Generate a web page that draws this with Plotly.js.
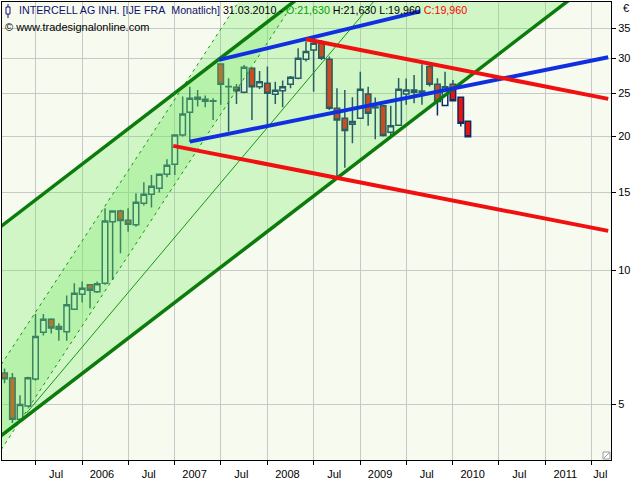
<!DOCTYPE html>
<html><head><meta charset="utf-8">
<script src="https://cdn.plot.ly/plotly-3.0.1.min.js"></script>
<style>html,body{margin:0;padding:0;background:#fff;}#chart{width:640px;height:480px;}</style>
</head><body><div id="chart"></div>
<script>
// Monthly candles, Mar 2005 - Mar 2010
const months = ['2005-03-01','2005-04-01','2005-05-01','2005-06-01','2005-07-01','2005-08-01','2005-09-01','2005-10-01','2005-11-01','2005-12-01',
'2006-01-01','2006-02-01','2006-03-01','2006-04-01','2006-05-01','2006-06-01','2006-07-01','2006-08-01','2006-09-01','2006-10-01','2006-11-01','2006-12-01',
'2007-01-01','2007-02-01','2007-03-01','2007-04-01','2007-05-01','2007-06-01','2007-07-01','2007-08-01','2007-09-01','2007-10-01','2007-11-01','2007-12-01',
'2008-01-01','2008-02-01','2008-03-01','2008-04-01','2008-05-01','2008-06-01','2008-07-01','2008-08-01','2008-09-01','2008-10-01','2008-11-01','2008-12-01',
'2009-01-01','2009-02-01','2009-03-01','2009-04-01','2009-05-01','2009-06-01','2009-07-01','2009-08-01','2009-09-01','2009-10-01','2009-11-01','2009-12-01',
'2010-01-01','2010-02-01','2010-03-01'];
const openP  = [5.88,5.73,4.63,4.96,5.70,7.26,7.77,7.48,7.28,8.18, 8.84,9.28,8.96,9.36,12.87,13.60,12.97,12.66,14.16,14.83,15.30,16.45, 17.33,20.14,22.67,24.50,24.25,24.00,29.11,25.90,25.80,25.14,28.47,25.88, 26.34,24.89,25.35,26.21,27.03,29.83,31.30,32.53,29.83,23.14,21.98,21.31, 21.98,24.90,23.20,23.43,20.45,21.20,24.90,25.44,25.10,28.71,26.21,23.46, 26.21,24.50,21.63];
const highP  = [6.02,5.88,5.24,5.77,7.98,7.98,7.81,7.61,8.78,9.36, 9.44,9.30,9.44,13.80,13.65,13.68,13.80,14.91,15.79,16.39,16.50,17.78, 20.20,24.58,25.88,25.44,24.71,24.38,29.20,27.03,26.25,28.96,28.50,28.07, 28.71,26.56,26.70,27.36,31.57,32.67,33.25,32.96,30.23,25.66,25.44,24.50, 27.97,25.88,24.47,23.50,23.43,27.08,27.00,27.50,29.07,29.22,27.03,27.97, 26.80,24.50,21.63];
const lowP   = [5.58,4.54,4.60,4.93,5.65,7.14,7.22,6.95,6.95,8.15, 8.47,8.22,8.90,9.28,9.52,10.93,12.22,12.54,14.00,13.84,14.96,16.20, 16.39,20.00,19.47,23.34,23.26,21.79,23.55,20.51,23.67,25.00,21.79,25.57, 21.23,23.67,23.26,25.66,26.90,29.46,25.22,29.72,22.94,16.25,17.02,19.31, 21.90,21.13,19.71,19.99,19.99,21.15,23.55,23.75,23.55,25.90,22.28,23.40, 24.00,21.05,19.96];
const closeP = [5.71,4.63,5.00,5.74,7.10,7.77,7.42,7.38,8.37,8.89, 9.12,9.03,9.33,12.92,13.60,12.94,12.70,14.23,14.83,15.46,16.45,17.23, 20.16,22.47,24.38,24.25,24.00,24.05,26.21,25.85,25.35,28.62,25.88,26.56, 25.01,25.41,25.88,27.18,29.98,31.02,32.40,29.98,23.14,21.79,20.62,21.60, 25.53,22.56,23.30,20.09,21.13,25.53,25.44,25.14,25.30,26.21,23.95,25.88, 24.07,21.42,19.96];

// Trend lines (date, price)
const chanUpperX = ['2005-01-01','2008-07-01'];  const chanUpperY = [12.0, 43.45];
const chanLowerX = ['2005-01-01','2011-11-01'];  const chanLowerY = [4.063, 50.1];
const blueUpperX = ['2007-06-24','2009-08-25'];  const blueUpperY = [29.72, 38.19];
const blueLowerX = ['2007-03-01','2011-09-05'];  const blueLowerY = [19.47, 30.14];
const redUpperX  = ['2008-06-01','2011-09-05'];  const redUpperY  = [33.08, 24.29];
const redLowerX  = ['2006-12-26','2011-09-05'];  const redLowerY  = [19.05, 12.27];
const thinSolidX = ['2005-05-26','2009-04-01'];  const thinSolidY = [4.777, 42.6];
const steepUpperX = ['2005-02-01','2007-11-01']; const steepUpperY = [5.963, 44.6];
const steepLowerX = ['2005-02-01','2008-07-01']; const steepLowerY = [3.840, 46.8];

// Axis ticks
const yTicks = [5,10,15,20,25,30,35];
const xBounds = ['2005-07-01','2006-01-01','2006-07-01','2007-01-01','2007-07-01','2008-01-01','2008-07-01','2009-01-01','2009-07-01','2010-01-01','2010-07-01','2011-01-01','2011-07-01'];
const xLabelPos = ['2005-09-20','2006-03-20','2006-09-20','2007-03-20','2007-09-20','2008-03-20','2008-09-20','2009-03-20','2009-09-20','2010-03-20','2010-09-20','2011-03-20','2011-08-05'];
const xLabelText = ['Jul','2006','Jul','2007','Jul','2008','Jul','2009','Jul','2010','Jul','2011','Jul'];

const xRange = ['2005-02-19','2011-09-16'];
const yRange = [Math.log10(3.75), Math.log10(40.1)];

const NAVY = '#0B2A66';
const font = 'Liberation Sans, Arial, sans-serif';
const BAND = 'rgba(110,235,95,0.28)';

function line(x, y, color, width, dash) {
  return {type:'scatter', mode:'lines', x:x, y:y, line:{color:color, width:width, dash:dash||'solid'}, hoverinfo:'skip'};
}
function band(ux, uy, lx, ly) {
  return {type:'scatter', mode:'lines', x:[ux[0],ux[1],lx[1],lx[0]], y:[uy[0],uy[1],ly[1],ly[0]],
          fill:'toself', fillcolor:BAND, line:{width:0}, hoverinfo:'skip'};
}

const traces = [
  {type:'candlestick', x:months, open:openP, high:highP, low:lowP, close:closeP,
   increasing:{line:{color:NAVY, width:1.5}, fillcolor:'#FFFFFF'},
   decreasing:{line:{color:NAVY, width:1.5}, fillcolor:'#F21008'},
   whiskerwidth:0, hoverinfo:'skip'},
  band(chanUpperX, chanUpperY, chanLowerX, chanLowerY),
  band(steepUpperX, steepUpperY, steepLowerX, steepLowerY),
  line(steepUpperX, steepUpperY, '#119911', 1, '3px,4px'),
  line(steepLowerX, steepLowerY, '#119911', 1, '3px,4px'),
  line(thinSolidX, thinSolidY, '#119911', 1),
  line(chanUpperX, chanUpperY, '#0B7C0B', 3.5),
  line(chanLowerX, chanLowerY, '#0B7C0B', 3.5),
  line(blueUpperX, blueUpperY, '#1030E0', 4),
  line(blueLowerX, blueLowerY, '#1030E0', 4),
  line(redUpperX, redUpperY, '#F01010', 4),
  line(redLowerX, redLowerY, '#F01010', 4),
  {type:'scatter', mode:'markers', x:[], y:[], xaxis:'x2', hoverinfo:'skip'}
];

const L = 2, R = 611, T = 2, B = 460;
const px = v => (v - L) / (R - L);
const py = v => (B - v) / (B - T);

const layout = {
  width:640, height:480,
  margin:{l:2, r:29, t:2, b:20, pad:0},
  paper_bgcolor:'#FFFFFF', plot_bgcolor:'#F7FBEF',
  showlegend:false,
  boxgap:0.12, boxgroupgap:0.12,
  font:{family:font, size:11, color:'#000'},
  xaxis:{type:'date', range:xRange, tickmode:'array', tickvals:xBounds, ticktext:xBounds.map(()=>''),
         ticks:'outside', ticklen:4, tickcolor:'#000', tickwidth:1,
         showgrid:true, gridcolor:'#C8C8C8', gridwidth:1, zeroline:false,
         showline:true, linecolor:'#000', linewidth:1, mirror:true, rangeslider:{visible:false}, fixedrange:true},
  xaxis2:{type:'date', overlaying:'x', anchor:'y', side:'bottom', range:xRange, tickmode:'array', tickvals:xLabelPos, ticktext:xLabelText,
          ticks:'outside', ticklen:4, tickcolor:'rgba(0,0,0,0)', showgrid:false, zeroline:false, showline:false,
          tickfont:{family:font, size:11, color:'#000'}},
  yaxis:{type:'log', side:'right', range:yRange, tickmode:'array', tickvals:yTicks, ticktext:yTicks.map(String),
         ticks:'outside', ticklen:4, tickcolor:'#000', showgrid:true, gridcolor:'#C8C8C8', gridwidth:1, zeroline:false,
         showline:true, linecolor:'#000', linewidth:1, mirror:true, tickfont:{family:font, size:11, color:'#000'}},
  annotations:[
    {xref:'paper', yref:'paper', x:px(17), y:py(10), xanchor:'left', yanchor:'middle', showarrow:false,
     text:"<span style='color:#10106E'>INTERCELL AG INH. [IJE FRA&nbsp;&nbsp;Monatlich]</span> 31.03.2010 - <span style='color:#00A000'>O:21,630</span> H:21,630 L:19,960 <span style='color:#FF0000'>C:19,960</span>",
     font:{family:font, size:10.7, color:'#000'}},
    {xref:'paper', yref:'paper', x:px(3), y:py(27), xanchor:'left', yanchor:'middle', showarrow:false,
     text:'© www.tradesignalonline.com', font:{family:font, size:11, color:'#000'}},
    {xref:'paper', yref:'paper', x:px(621), y:py(8), xanchor:'left', yanchor:'middle', showarrow:false,
     text:'€', font:{family:font, size:11, color:'#000'}}
  ],
  shapes:[
    {type:'line', xref:'paper', yref:'paper', x0:px(8), x1:px(8), y0:py(4), y1:py(18), line:{color:'#10106E', width:1}},
    {type:'rect', xref:'paper', yref:'paper', x0:px(6), x1:px(10), y0:py(7), y1:py(14), fillcolor:'#FFFFFF', line:{color:'#10106E', width:1}},
    {type:'rect', xref:'paper', yref:'paper', x0:px(603), x1:px(610), y0:py(452), y1:py(459), fillcolor:'#FFFFFF', line:{color:'#999', width:1}},
    {type:'line', xref:'paper', yref:'paper', x0:px(604), x1:px(609), y0:py(458), y1:py(453), line:{color:'#999', width:1}}
  ]
};

Plotly.newPlot('chart', traces, layout, {staticPlot:true, displayModeBar:false});
</script>
</body></html>
